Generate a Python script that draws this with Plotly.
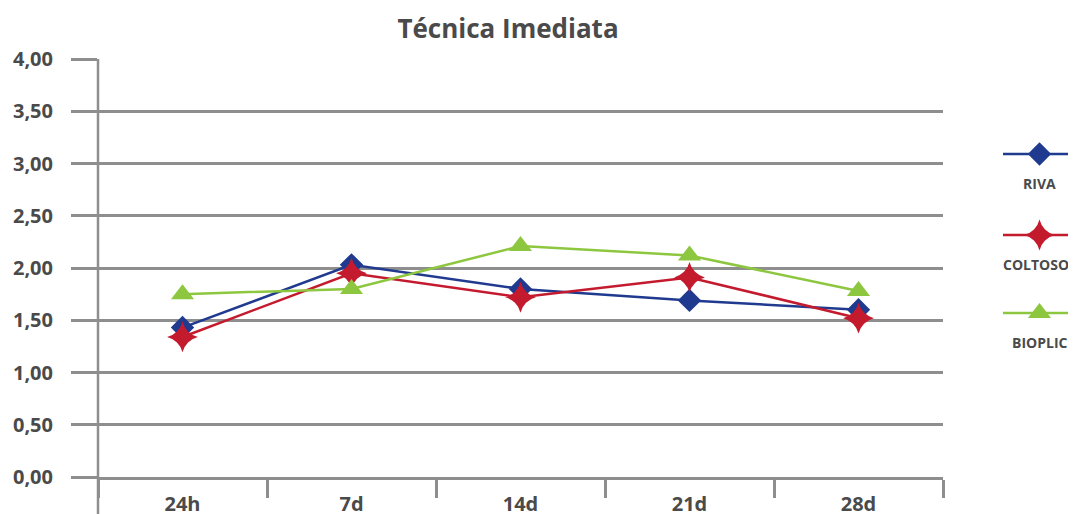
import plotly.graph_objects as go

categories = ["24h", "7d", "14d", "21d", "28d"]
riva = [1.43, 2.03, 1.80, 1.69, 1.60]
coltosol = [1.34, 1.95, 1.72, 1.91, 1.52]
bioplic = [1.75, 1.80, 2.21, 2.12, 1.78]
series_names = ["RIVA", "COLTOSOL", "BIOPLIC"]
y_ticks = [0, 0.5, 1, 1.5, 2, 2.5, 3, 3.5, 4]

colors = ["#1f3a8f", "#c41a2e", "#8dc63f"]
symbols = ["diamond", "star-diamond", "triangle-up"]
msizes = [18, 22, 20]
font = "Open Sans"
txt = "#4a4a4a"
grid = "#8e8e8e"

# page body has an 8px margin, so the figure is 8px smaller than the window
W, H = 1068, 506
L, R, T, B = 90, 0, 51, 37
plot_w = W - L - R
plot_h = H - T - B
x_end = 935

fig = go.Figure()
for name, vals, c, s, ms in zip(series_names, [riva, coltosol, bioplic], colors, symbols, msizes):
    fig.add_trace(go.Scatter(
        x=categories, y=vals, mode="lines+markers", name=name,
        line=dict(color=c, width=2.5),
        marker=dict(symbol=s, size=ms, color=c, line=dict(width=0)),
        showlegend=False, xaxis="x", yaxis="y"))

# custom legend on secondary axes
leg_y = [323, 242, 164]  # pixel offsets from plot bottom
for name, c, s, ms, ly in zip(series_names, colors, symbols, msizes, leg_y):
    fig.add_trace(go.Scatter(
        x=[0, 0.5, 1], y=[ly, ly, ly], mode="lines",
        line=dict(color=c, width=2.5), showlegend=False,
        xaxis="x2", yaxis="y2", hoverinfo="skip"))
    fig.add_trace(go.Scatter(
        x=[0.5], y=[ly], mode="markers",
        marker=dict(symbol=s, size=ms, color=c, line=dict(width=0)),
        showlegend=False, xaxis="x2", yaxis="y2", hoverinfo="skip"))
    fig.add_annotation(x=0.5, y=ly - 29, xref="x2", yref="y2", text=name,
                       showarrow=False, font=dict(family=font, size=14, color=txt, weight="bold"),
                       xanchor="center", yanchor="middle")

fig.update_layout(
    width=W, height=H,
    margin=dict(l=L, r=R, t=T, b=B, autoexpand=False),
    paper_bgcolor="white", plot_bgcolor="white",
    separators=",.",
    title=dict(text="Técnica Imediata", x=500 / W, xanchor="center",
               y=1 - 21 / H, yanchor="middle",
               font=dict(family=font, size=26, color=txt, weight="bold")),
    xaxis=dict(domain=[0, (x_end - L) / plot_w], type="category", automargin=False,
               showgrid=False, zeroline=False, showline=True, linecolor=grid, linewidth=2.5,
               ticks="outside", tickson="boundaries", ticklen=18, tickwidth=2.5, tickcolor=grid,
               ticklabelstandoff=7,
               tickfont=dict(family=font, size=20, color=txt, weight="bold"), range=[-0.5, 4.5]),
    yaxis=dict(range=[0, 4], tickvals=y_ticks, tickformat=".2f", automargin=False,
               showgrid=True, gridcolor=grid, gridwidth=2.5, zeroline=False,
               showline=False, ticks="outside", ticklen=26, tickwidth=2.5, tickcolor=grid,
               ticklabelstandoff=14,
               tickfont=dict(family=font, size=20, color=txt, weight="bold")),
    xaxis2=dict(domain=[(995 - L) / plot_w, 1], range=[0, 1], visible=False, anchor="y2"),
    yaxis2=dict(domain=[0, 1], range=[0, plot_h], visible=False, anchor="x2"),
)

# vertical axis line extending below the plot area
fig.add_shape(type="line", xref="paper", yref="paper", x0=0, x1=0,
              y0=1, y1=-B / plot_h, line=dict(color=grid, width=2.5))

fig.write_html("out.html")
